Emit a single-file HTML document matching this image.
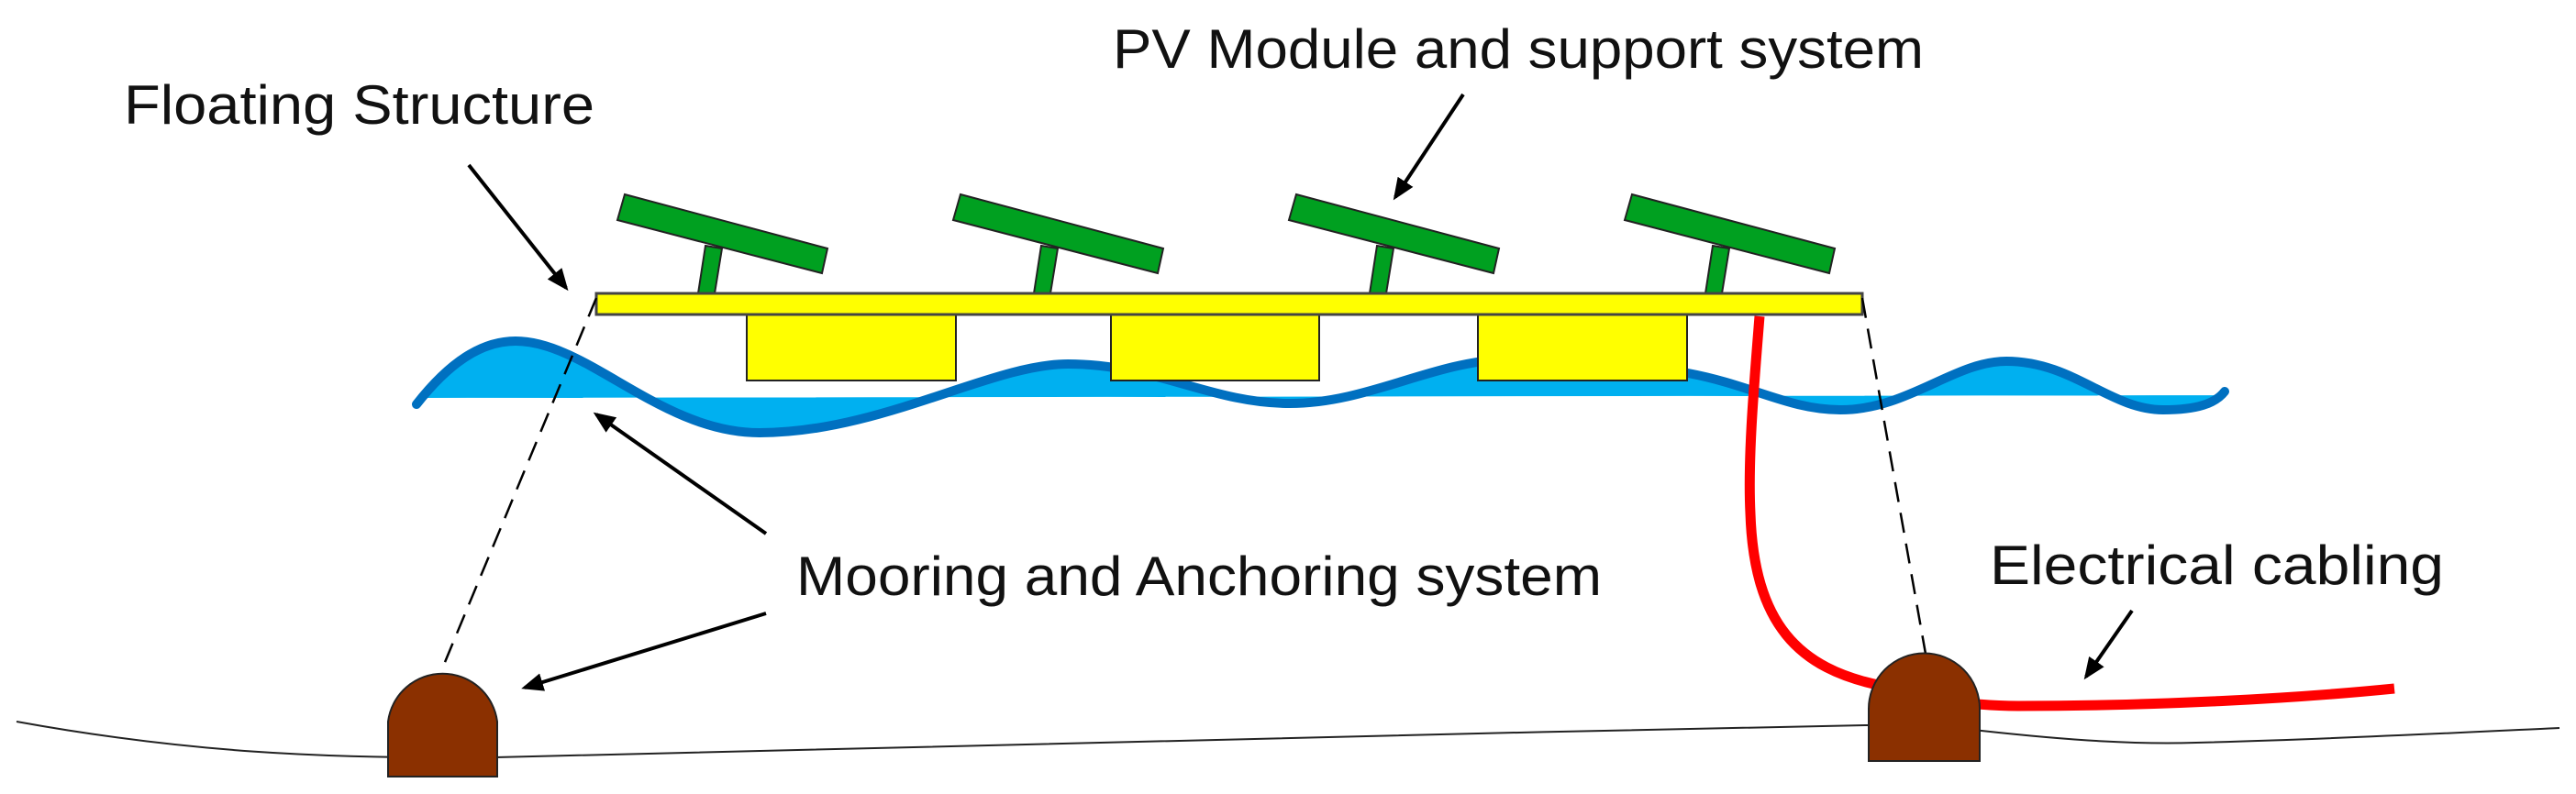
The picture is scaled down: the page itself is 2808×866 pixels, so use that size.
<!DOCTYPE html>
<html><head><meta charset="utf-8"><style>
html,body{margin:0;padding:0;background:#fff;}
svg{display:block}
text{font-family:"Liberation Sans Narrow","Liberation Sans",sans-serif;font-size:60px;fill:#111}
</style></head><body>
<svg width="2808" height="866" viewBox="0 0 2808 866" xmlns="http://www.w3.org/2000/svg">
<defs>
<marker id="ah" markerWidth="6" markerHeight="5" refX="5" refY="2.5" orient="auto" markerUnits="strokeWidth">
<path d="M0,0 L6,2.5 L0,5 Z" fill="#000"/>
</marker>
</defs>
<!-- ground -->
<path d="M18,787 C200,820 350,828 540,826 C900,822 1500,800 2034,791 C2100,790 2130,794 2160,797 C2260,808 2330,812 2394,810 C2550,806 2700,798 2790,794" fill="none" stroke="#222" stroke-width="2"/>
<!-- water fill -->
<path d="M454,441 C490,395 525,372 562,372 C640,372 720,472 828,472 C960,472 1080,397 1164,397 C1260,397 1320,440 1406,440 C1490,440 1560,395 1640,392 C1720,390 1780,405 1840,407 C1910,420 1950,447 2006,447 C2080,447 2130,394 2187,394 C2260,394 2300,447 2358,447 C2395,447 2415,440 2425,427 L2425,431 L454,434 Z" fill="#00b0f0" fill-rule="evenodd"/>
<path d="M454,441 C490,395 525,372 562,372 C640,372 720,472 828,472 C960,472 1080,397 1164,397 C1260,397 1320,440 1406,440 C1490,440 1560,395 1640,392 C1720,390 1780,405 1840,407 C1910,420 1950,447 2006,447 C2080,447 2130,394 2187,394 C2260,394 2300,447 2358,447 C2395,447 2415,440 2425,427" fill="none" stroke="#0070c0" stroke-width="10" stroke-linecap="round"/>
<!-- floats -->
<rect x="814" y="343" width="228" height="72" fill="#ffff00" stroke="#222" stroke-width="2"/>
<rect x="1211" y="343" width="227" height="72" fill="#ffff00" stroke="#222" stroke-width="2"/>
<rect x="1611" y="343" width="228" height="72" fill="#ffff00" stroke="#222" stroke-width="2"/>
<!-- posts & panels -->
<g fill="#00a020" stroke="#222" stroke-width="2">
<polygon points="769,268 787,271 779,320 761,320"/>
<polygon points="1135,268 1153,271 1145,320 1127,320"/>
<polygon points="1501,268 1519,271 1511,320 1493,320"/>
<polygon points="1867,268 1885,271 1877,320 1859,320"/>
<polygon points="681,212 902,271 896,298 673,240"/>
<polygon points="1047,212 1268,271 1262,298 1039,240"/>
<polygon points="1413,212 1634,271 1628,298 1405,240"/>
<polygon points="1779,212 2000,271 1994,298 1771,240"/>
</g>
<!-- deck -->
<rect x="650" y="320" width="1380" height="23" fill="#ffff00" stroke="#444" stroke-width="3"/>
<!-- red cable -->
<path d="M1918,345 C1912,420 1905,500 1908,560 C1912,680 1960,730 2052,748 C2100,760 2140,770 2200,770 C2350,770 2500,762 2610,751" fill="none" stroke="#ff0000" stroke-width="11"/>
<!-- dashed mooring -->
<line x1="650" y1="325" x2="483" y2="727" stroke="#000" stroke-width="2.5" stroke-dasharray="22,12"/>
<line x1="2030" y1="325" x2="2099" y2="713" stroke="#000" stroke-width="2.5" stroke-dasharray="22,12"/>
<!-- anchors -->
<path d="M423,847 L423,787 A60,60 0 0 1 542,787 L542,847 Z" fill="#8b3000" stroke="#222" stroke-width="2"/>
<path d="M2037,830 L2037,773 A60,60 0 0 1 2158,773 L2158,830 Z" fill="#8b3000" stroke="#222" stroke-width="2"/>
<!-- arrows -->
<g stroke="#000" stroke-width="4" marker-end="url(#ah)">
<line x1="511" y1="180" x2="617" y2="314"/>
<line x1="835" y1="582" x2="650" y2="452"/>
<line x1="835" y1="669" x2="572" y2="750"/>
<line x1="1595" y1="103" x2="1521" y2="215"/>
<line x1="2324" y1="666" x2="2274" y2="738"/>
</g>
<!-- labels -->
<text x="135" y="135" textLength="513" lengthAdjust="spacingAndGlyphs">Floating Structure</text>
<text x="1213" y="74" textLength="884" lengthAdjust="spacingAndGlyphs">PV Module and support system</text>
<text x="868" y="649" textLength="878" lengthAdjust="spacingAndGlyphs">Mooring and Anchoring system</text>
<text x="2169" y="637" textLength="495" lengthAdjust="spacingAndGlyphs">Electrical cabling</text>
</svg>
</body></html>
